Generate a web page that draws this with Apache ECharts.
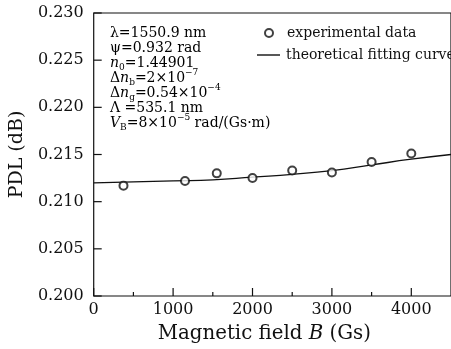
<!DOCTYPE html>
<html><head><meta charset="utf-8">
<script src="https://cdn.jsdelivr.net/npm/echarts@6/dist/echarts.min.js"></script>
<style>html,body{margin:0;padding:0;background:#fff}#c{width:451px;height:349px}</style>
</head><body><div id="c"></div>
<script>
const expB = [375, 1150, 1550, 2000, 2500, 3000, 3500, 4000];
const expPDL = [0.2117, 0.2122, 0.2130, 0.2125, 0.2133, 0.2131, 0.2142, 0.2151];
const fitB = [0, 500, 1000, 1500, 2000, 2500, 3000, 3500, 4000, 4500];
const fitPDL = [0.2120, 0.2121, 0.2122, 0.2123, 0.2126, 0.2129, 0.2133, 0.2139, 0.2145, 0.2150];
const xTicks = [0, 1000, 2000, 3000, 4000];
const xMinorTicks = [500, 1500, 2500, 3500];
const yTicks = [0.200, 0.205, 0.210, 0.215, 0.220, 0.225, 0.230];
const seriesNames = ['experimental data', 'theoretical fitting curve'];
const xTitle = 'Magnetic field {i|B} (Gs)';
const yTitle = 'PDL (dB)';
const annot = [
  '{t|λ=1550.9 nm}',
  '{t|ψ=0.932 rad}',
  '{i|n}{s|0}{t|=1.44901}',
  '{t|Δ}{i|n}{s|b}{t|=2×10}{p|−7}',
  '{t|Δ}{i|n}{s|g}{t|=0.54×10}{p|−4}',
  '{t|Λ =535.1 nm}',
  '{i|V}{s|B}{t|=8×10}{p|−5}{t| rad/(Gs·m)}'
];

const X_MIN = 0, X_MAX = 4500, Y_MIN = 0.200, Y_MAX = 0.230;
const F = 'DejaVu Serif';
const chart = echarts.init(document.getElementById('c'));
const tf = {fontFamily: F, fontSize: 14, color: '#111'};
const sub = {fontFamily: F, fontSize: 9, color: '#111', verticalAlign: 'bottom', padding: [0,0,-2,0]};
const sup = {fontFamily: F, fontSize: 9, color: '#111', verticalAlign: 'top', padding: [-3,0,0,0]};
const it = {fontFamily: F, fontSize: 14, fontStyle: 'italic', color: '#111'};
const annotY = [33, 48, 63, 78, 93, 108, 123];
const annotGraphics = annot.map((s, i) => ({
  type: 'text', x: 110, y: annotY[i],
  style: {text: s, verticalAlign: 'middle', rich: {t: tf, i: it, s: sub, p: sup}}
}));

chart.setOption({
  animation: false,
  grid: {left: 92, width: 361, top: 13, bottom: 52, show: true, borderColor: '#111', borderWidth: 1.2,
    backgroundColor: 'transparent'},
  legend: [
    {left: 259, top: 21, itemWidth: 8, itemHeight: 8, icon: 'emptyCircle',
      data: [seriesNames[0]],
      textStyle: {fontFamily: F, fontSize: 14, color: '#111', padding: [0,0,0,9]}},
    {left: 252, top: 43, itemWidth: 23, itemHeight: 1.4, icon: 'rect',
      data: [seriesNames[1]],
      textStyle: {fontFamily: F, fontSize: 14, color: '#111', padding: [0,0,0,1]}}
  ],
  xAxis: {
    type: 'value', min: X_MIN, max: X_MAX,
    name: xTitle, nameLocation: 'middle', nameGap: 28,
    nameTextStyle: {fontFamily: F, fontSize: 19.8, color: '#111', padding: [0, 16, 0, 0],
      rich: {i: {fontFamily: F, fontSize: 19.8, fontStyle: 'italic', color: '#111'}}},
    axisLine: {show: false},
    axisTick: {show: false},
    splitLine: {show: false},
    axisLabel: {show: true, fontFamily: F, fontSize: 16, color: '#111', margin: 6, customValues: xTicks,
      formatter: v => String(v)}
  },
  yAxis: {
    type: 'value', min: Y_MIN, max: Y_MAX, interval: 0.005,
    name: yTitle, nameLocation: 'middle', nameGap: 58, nameRotate: 90,
    nameTextStyle: {fontFamily: F, fontSize: 19, color: '#111'},
    axisLine: {show: false},
    axisTick: {show: false},
    splitLine: {show: false},
    axisLabel: {fontFamily: F, fontSize: 16, color: '#111', margin: 10,
      formatter: v => v.toFixed(3)}
  },
  series: [
    {name: seriesNames[0], type: 'scatter', symbol: 'emptyCircle', symbolSize: 8,
      itemStyle: {color: '#111', borderColor: '#111', borderWidth: 1},
      data: expB.map((b, i) => [b, expPDL[i]]), z: 3},
    {name: seriesNames[1], type: 'line', symbol: 'none', smooth: true,
      lineStyle: {color: '#111', width: 1.3}, itemStyle: {color: '#111'},
      data: fitB.map((b, i) => [b, fitPDL[i]]), z: 2}
  ],
  graphic: annotGraphics
});

// tick marks placed through the chart's own axis scales
const tickLine = (p, dx, dy) => ({
  type: 'line', z: 100, silent: true,
  shape: {x1: p[0], y1: p[1], x2: p[0] + dx, y2: p[1] + dy},
  style: {stroke: '#111', lineWidth: 1.2}
});
const tickGraphics = [];
yTicks.forEach(v => tickGraphics.push(tickLine(chart.convertToPixel({gridIndex: 0}, [X_MIN, v]), 8, 0)));
xTicks.forEach(v => tickGraphics.push(tickLine(chart.convertToPixel({gridIndex: 0}, [v, Y_MIN]), 0, -8)));
xMinorTicks.forEach(v => tickGraphics.push(tickLine(chart.convertToPixel({gridIndex: 0}, [v, Y_MIN]), 0, -4)));
chart.setOption({graphic: annotGraphics.concat(tickGraphics)});
</script></body></html>
